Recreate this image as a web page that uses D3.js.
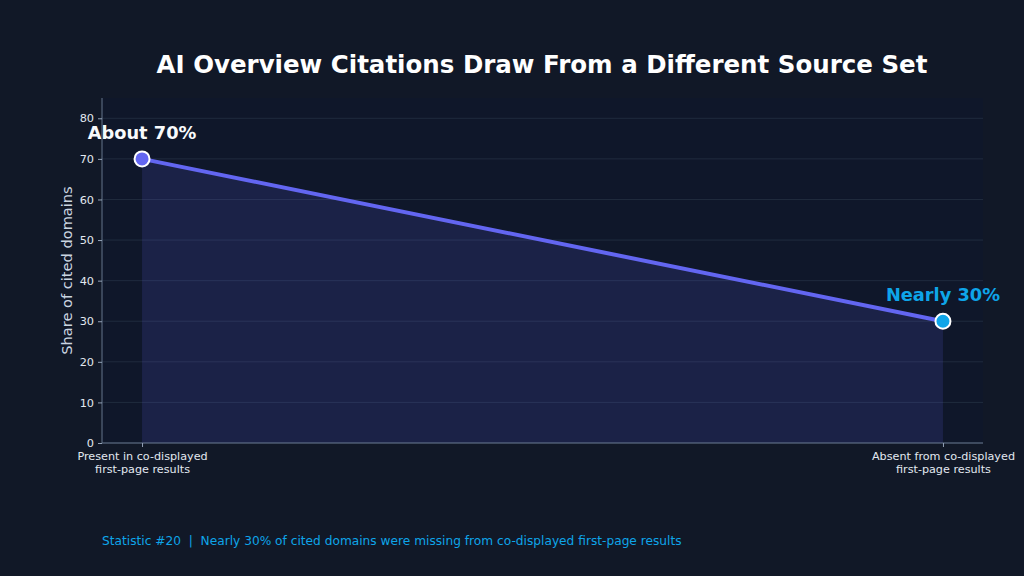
<!DOCTYPE html>
<html>
<head>
<meta charset="utf-8">
<script src="https://cdn.jsdelivr.net/npm/d3@7"></script>
<style>
  html, body { margin: 0; padding: 0; background: #111827; }
  svg { display: block; font-family: "DejaVu Sans", sans-serif; }
</style>
</head>
<body>
<div id="chart"></div>
<script>
// chart values
var categories = ["Present in co-displayed\nfirst-page results", "Absent from co-displayed\nfirst-page results"];
var shares = [70, 30];
var pointLabels = ["About 70%", "Nearly 30%"];
var pointColors = ["#6366f1", "#0ea5e9"];
var yTicks = [0, 10, 20, 30, 40, 50, 60, 70, 80];

var title = "AI Overview Citations Draw From a Different Source Set";
var yLabel = "Share of cited domains";
var footnote = "Statistic #20  |  Nearly 30% of cited domains were missing from co-displayed first-page results";

var W = 1024, H = 576;
var margin = {top: 98, right: 41, bottom: 133, left: 102};
var innerW = W - margin.left - margin.right;
var innerH = H - margin.top - margin.bottom;

var svg = d3.select("#chart").append("svg")
            .attr("width", W)
            .attr("height", H)
            .style("background", "#111827");

var g = svg.append("g")
           .attr("transform", "translate(" + margin.left + "," + margin.top + ")");

g.append("rect").attr("width", innerW).attr("height", innerH).attr("fill", "#0f172a");

// x is an index scale, padded like matplotlib's default margins
var x = d3.scaleLinear().domain([-0.05, 1.05]).range([0, innerW]);
var y = d3.scaleLinear().domain([0, 85]).range([innerH, 0]);

// grid
g.append("g").selectAll("line").data(yTicks)
 .enter().append("line")
 .attr("x1", 0).attr("x2", innerW)
 .attr("y1", d => y(d)).attr("y2", d => y(d))
 .attr("stroke", "#334155").attr("stroke-opacity", 0.6).attr("stroke-width", 0.8);

var pts = shares.map((v, i) => ({i: i, v: v}));

// area under the line
var area = d3.area().x(d => x(d.i)).y0(y(0)).y1(d => y(d.v));
g.append("path").datum(pts)
 .attr("d", area)
 .attr("fill", "#6366f1").attr("fill-opacity", 0.15);

var line = d3.line().x(d => x(d.i)).y(d => y(d.v));
g.append("path").datum(pts)
 .attr("d", line)
 .attr("fill", "none")
 .attr("stroke", "#6366f1")
 .attr("stroke-width", 4)
 .attr("stroke-linecap", "round");

g.selectAll("circle.pt").data(pts)
 .enter().append("circle")
 .attr("class", "pt")
 .attr("cx", d => x(d.i)).attr("cy", d => y(d.v))
 .attr("r", 7.5)
 .attr("fill", (d, i) => pointColors[i])
 .attr("stroke", "#ffffff").attr("stroke-width", 2);

g.selectAll("text.plabel").data(pts)
 .enter().append("text")
 .attr("class", "plabel")
 .attr("x", d => x(d.i))
 .attr("y", d => y(d.v) - 20)
 .attr("text-anchor", "middle")
 .attr("font-size", 17.8).attr("font-weight", "bold")
 .attr("fill", (d, i) => i === 0 ? "#f8fafc" : pointColors[i])
 .text((d, i) => pointLabels[i]);

// axes
var yAxis = g.append("g")
 .call(d3.axisLeft(y).tickValues(yTicks).tickSize(4).tickPadding(4));
var xAxis = g.append("g")
 .attr("transform", "translate(0," + innerH + ")")
 .call(d3.axisBottom(x).tickValues([0, 1]).tickSize(4).tickFormat(""));

[yAxis, xAxis].forEach(function(ax) {
  ax.select(".domain").attr("stroke", "#64748b").attr("stroke-width", 1);
  ax.selectAll(".tick line").attr("stroke", "#94a3b8");
  ax.selectAll(".tick text").attr("fill", "#e2e8f0").attr("font-size", 11.3)
    .attr("font-family", "DejaVu Sans, sans-serif");
});
yAxis.select(".domain").attr("d", "M0," + innerH + "V0");
xAxis.select(".domain").attr("d", "M0,0H" + innerW);

// category labels (two lines)
xAxis.selectAll(".tick").each(function(d) {
  var t = d3.select(this).append("text")
    .attr("fill", "#e2e8f0").attr("font-size", 11.2)
    .attr("text-anchor", "middle")
    .attr("font-family", "DejaVu Sans, sans-serif");
  categories[d].split("\n").forEach(function(s, k) {
    t.append("tspan").attr("x", 0).attr("y", 17 + k * 13).text(s);
  });
});

svg.append("text")
   .attr("transform", "translate(72," + (margin.top + innerH / 2) + ") rotate(-90)")
   .attr("text-anchor", "middle")
   .attr("font-size", 14.6)
   .attr("fill", "#cbd5e1")
   .text(yLabel);

svg.append("text")
   .attr("x", 542).attr("y", 73)
   .attr("text-anchor", "middle")
   .attr("font-size", 24.5).attr("font-weight", "bold")
   .attr("fill", "#ffffff")
   .text(title);

svg.append("text")
   .attr("x", 102).attr("y", 545)
   .attr("font-size", 12.2)
   .attr("fill", "#0ea5e9")
   .style("white-space", "pre")
   .text(footnote);
</script>
</body>
</html>
